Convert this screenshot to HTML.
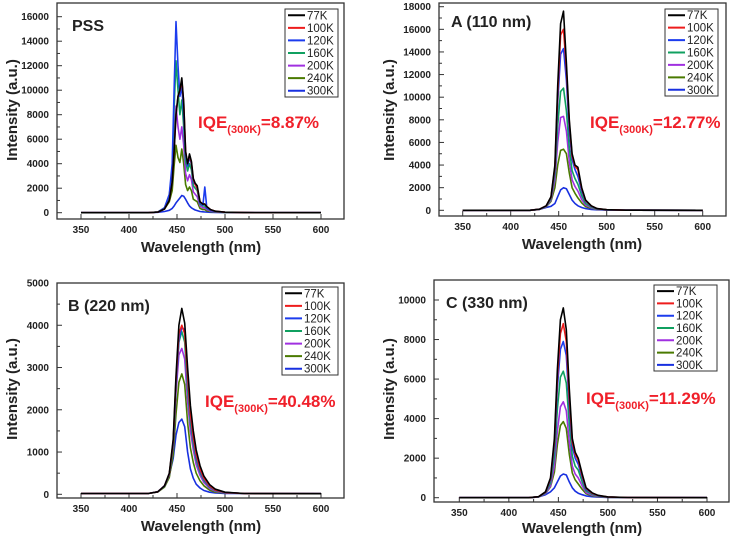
<!DOCTYPE html>
<html><head><meta charset="utf-8"><style>
body{margin:0;background:#fff;}
svg{display:block;font-family:"Liberation Sans",Arial,sans-serif;}
</style></head><body>
<svg id="fig" width="734" height="538" viewBox="0 0 734 538"></svg>
<script>
const seriesNames=["77K","100K","120K","160K","200K","240K","300K"];
const seriesColors=["#000000","#ee1c1c","#1c3cee","#10a060","#a030e0","#4a7a00","#1830e0"];
const gridStd=[350,420,430,437,442,446,449,452,455,458,461,464,467,470,474,478,484,490,500,520,600];
const gridPSS=[350,420,430,437,442,445,447,449,451,453,455,457,459,461,463,465,467,469,471,474,477,479,481,485,490,500,520,600];
const pss77=[0,0,50,300,1000,2500,5000,8000,9500,10000,11000,9000,5000,4000,4800,4200,2800,2400,2200,900,700,700,500,250,120,40,10,0];
const pss100=[0,0,50,300,1000,2500,5000,8000,9500,10000,10800,9000,5000,4000,4700,4100,2700,2300,2000,900,700,700,500,250,120,40,10,0];
const pss120=[0,0,60,400,1500,4000,10000,15600,12000,9500,10300,8000,4800,3800,4500,4000,2500,2300,2000,800,600,2100,400,200,100,40,10,0];
const pss160=[0,0,60,400,1400,3500,8500,12400,10000,8000,9200,7000,4200,3400,4000,3500,2200,2000,1800,700,550,550,350,180,90,35,10,0];
const pss200=[0,0,50,350,1200,2800,6000,8700,7000,6000,7000,5500,3200,2600,3100,2700,1700,1500,1300,550,400,400,250,130,70,30,10,0];
const pss240=[0,0,50,300,900,1800,3800,5500,4500,4100,5200,4000,2300,1800,2100,1800,1100,1000,900,350,250,250,150,90,50,20,5,0];
const pss300=[0,0,30,100,200,350,550,800,1000,1200,1400,1350,1100,800,550,400,300,220,170,100,70,60,50,30,20,10,5,0];
const a77=[0,0,100,400,1200,4000,11000,16500,17600,13000,8000,5000,4000,3800,2000,900,400,150,50,10,0];
const a100=[0,0,100,400,1150,3800,10300,15500,16000,12500,7700,4800,3900,3600,1900,850,380,140,50,10,0];
const a120=[0,0,100,380,1100,3600,9500,13800,14300,11500,7000,4500,3600,3000,1700,800,350,130,45,10,0];
const a160=[0,0,90,350,1000,3200,7500,10500,10800,8800,5500,3500,2800,2300,1300,600,280,110,40,10,0];
const a200=[0,0,80,330,900,2700,6000,8200,8300,7000,4300,2700,2100,1700,950,450,220,90,35,10,0];
const a240=[0,0,80,300,800,2000,4000,5300,5400,5000,3300,2000,1500,1100,650,330,170,70,30,10,0];
const a300=[0,0,80,250,350,600,1200,1800,2000,1900,1400,900,600,400,250,150,80,40,20,5,0];
const b77=[20,20,60,200,500,1300,2800,4000,4400,4050,3000,2100,1500,1050,680,430,230,120,50,20,15];
const b100=[20,20,60,200,480,1250,2700,3800,4000,3800,2800,1900,1350,950,600,380,200,100,45,20,15];
const b120=[20,20,60,200,470,1200,2600,3650,3950,3900,2750,1850,1300,900,570,360,190,95,45,20,15];
const b160=[20,20,60,190,460,1180,2550,3600,3850,3600,2500,1700,1200,820,520,330,170,85,40,20,15];
const b200=[20,20,60,190,460,1150,2400,3300,3450,3200,2200,1500,1050,700,450,280,140,70,35,20,15];
const b240=[20,20,55,170,400,950,1900,2650,2850,2600,1700,1100,750,500,320,200,100,50,30,20,15];
const b300=[20,20,60,200,450,850,1400,1700,1780,1600,1000,600,380,240,150,90,50,30,20,20,15];
const c77=[0,0,50,300,1000,3000,6500,9000,9600,8500,5500,3000,2300,2000,1200,500,250,120,40,10,0];
const c100=[0,0,50,280,950,2800,6100,8300,8800,7900,5000,2800,2200,1900,1100,480,230,110,40,10,0];
const c120=[0,0,50,260,900,2600,5600,7500,7900,7200,4600,2600,2000,1700,1000,430,210,100,35,10,0];
const c160=[0,0,45,230,750,2100,4500,6100,6400,5800,3700,2100,1600,1400,800,350,170,80,30,10,0];
const c200=[0,0,40,200,600,1600,3400,4600,4850,4400,2800,1600,1200,1000,600,260,130,60,25,10,0];
const c240=[0,0,40,200,550,1300,2700,3650,3850,3500,2200,1250,900,700,420,200,100,50,20,10,0];
const c300=[0,0,40,150,300,500,800,1100,1200,1150,800,500,330,230,150,90,50,30,15,5,0];
const xTicks=[350,400,450,500,550,600];
const yTicksPSS=[0,2000,4000,6000,8000,10000,12000,14000,16000];
const yTicksA=[0,2000,4000,6000,8000,10000,12000,14000,16000,18000];
const yTicksB=[0,1000,2000,3000,4000,5000];
const yTicksC=[0,2000,4000,6000,8000,10000];

const NS="http://www.w3.org/2000/svg";
const svg=document.getElementById('fig');
function mk(tag,attrs,parent,text){const e=document.createElementNS(NS,tag);for(const k in attrs)e.setAttribute(k,attrs[k]);if(text!==undefined)e.textContent=text;(parent||svg).appendChild(e);return e;}

const panels=[
 {id:"pss",label:"PSS",iqe:"8.87%",box:[57,3,344,219],x0:81,x1:321,y0:212.7,yTop:16.7,yMax:16000,grid:gridPSS,series:[pss77,pss100,pss120,pss160,pss200,pss240,pss300],yt:yTicksPSS,minor:1000,leg:[285,9,338,97],lab:[72,31],iqePos:[198,128],xt:[201,252],yl:[17,110]},
 {id:"a",label:"A (110 nm)",iqe:"12.77%",box:[439,3,726,216],x0:462.7,x1:702.7,y0:210.3,yTop:6.7,yMax:18000,grid:gridStd,series:[a77,a100,a120,a160,a200,a240,a300],yt:yTicksA,minor:1000,leg:[665,9,718,96],lab:[451,27],iqePos:[590,128],xt:[582,249],yl:[394,110]},
 {id:"b",label:"B (220 nm)",iqe:"40.48%",box:[57,283,344,498],x0:81,x1:321,y0:494.3,yTop:283,yMax:5000,grid:gridStd,series:[b77,b100,b120,b160,b200,b240,b300],yt:yTicksB,minor:500,leg:[282,287,338,375],lab:[68,311],iqePos:[205,407],xt:[201,531],yl:[17,389]},
 {id:"c",label:"C (330 nm)",iqe:"11.29%",box:[434,280,729,502],x0:459.3,x1:707,y0:497.7,yTop:300,yMax:10000,grid:gridStd,series:[c77,c100,c120,c160,c200,c240,c300],yt:yTicksC,minor:1000,leg:[654,285,717,371],lab:[446,308],iqePos:[586,404],xt:[582,533],yl:[394,389]}
];

panels.forEach(p=>{
 const g=mk('g',{});
 
 
 const xs=v=>p.x0+(v-350)/250*(p.x1-p.x0);
 const ys=v=>p.y0-(v/p.yMax)*(p.y0-p.yTop);
 const [L,T,R,B]=p.box;
 const frame=mk('rect',{x:L,y:T,width:R-L,height:B-T,fill:'none',stroke:'#333',"stroke-width":1.3},g);
 
 
 for(let v=350;v<=600;v+=25){const x=xs(v);const len=(v%50===0)?5:3;mk('line',{x1:x,y1:B,x2:x,y2:B-len,stroke:'#333'},g);}
 xTicks.forEach(v=>{const t=mk('text',{x:xs(v),y:B+14,"font-size":10,"font-weight":"bold","text-anchor":"middle",fill:'#222'},g,String(v));
  
  });
 for(let v=0;v<=p.yMax;v+=p.minor){const y=ys(v);if(y<T-0.5)continue;const major=p.yt.includes(v);mk('line',{x1:L,y1:y,x2:L+(major?5:3),y2:y,stroke:'#333'},g);}
 p.yt.forEach(v=>{const t=mk('text',{x:L-8,y:ys(v)+3.5,"font-size":10,"font-weight":"bold","text-anchor":"end",fill:'#222'},g,String(v));
  
  });
 for(let s=p.series.length-1;s>=0;s--){
  const vals=p.series[s];
  const d=vals.map((v,i)=>(i?'L':'M')+xs(p.grid[i]).toFixed(1)+','+ys(v).toFixed(1)).join(' ');
  const path=mk('path',{d:d,fill:'none',stroke:seriesColors[s],"stroke-width":1.6,"stroke-linejoin":"round"},g);
  
  
 }
 const [lL,lT,lR,lB]=p.leg;
 const lg=mk('g',{},g);
 
 
 mk('rect',{x:lL,y:lT,width:lR-lL,height:lB-lT,fill:'#fff',stroke:'#333',"stroke-width":1},lg);
 const step=(lB-lT)/7;
 seriesNames.forEach((n,i)=>{
  const y=lT+step*(i+0.5);
  const e=mk('g',{},lg);
  
  
  mk('line',{x1:lL+3,y1:y,x2:lL+20,y2:y,stroke:seriesColors[i],"stroke-width":2},e);
  mk('text',{x:lL+22,y:y+4,"font-size":11.5,fill:'#222'},e,n);
 });
 const lab=mk('text',{x:p.lab[0],y:p.lab[1],"font-size":16,"font-weight":"bold",fill:'#222'},g,p.label);
 
 
 const iq=mk('text',{x:p.iqePos[0],y:p.iqePos[1],"font-size":17,"font-weight":"bold",fill:'#f0202a'},g);
 
 
 mk('tspan',{},iq,'IQE');
 mk('tspan',{"font-size":11,dy:5},iq,'(300K)');
 mk('tspan',{dy:-5},iq,'='+p.iqe);
 const xt=mk('text',{x:p.xt[0],y:p.xt[1],"font-size":15,"font-weight":"bold","text-anchor":"middle",fill:'#222'},g,'Wavelength (nm)');
 
 
 const yt=mk('text',{x:0,y:0,"font-size":15,"font-weight":"bold","text-anchor":"middle",fill:'#222',transform:`translate(${p.yl[0]},${p.yl[1]}) rotate(-90)`},g,'Intensity (a.u.)');
 
 
});
</script>
</body></html>
